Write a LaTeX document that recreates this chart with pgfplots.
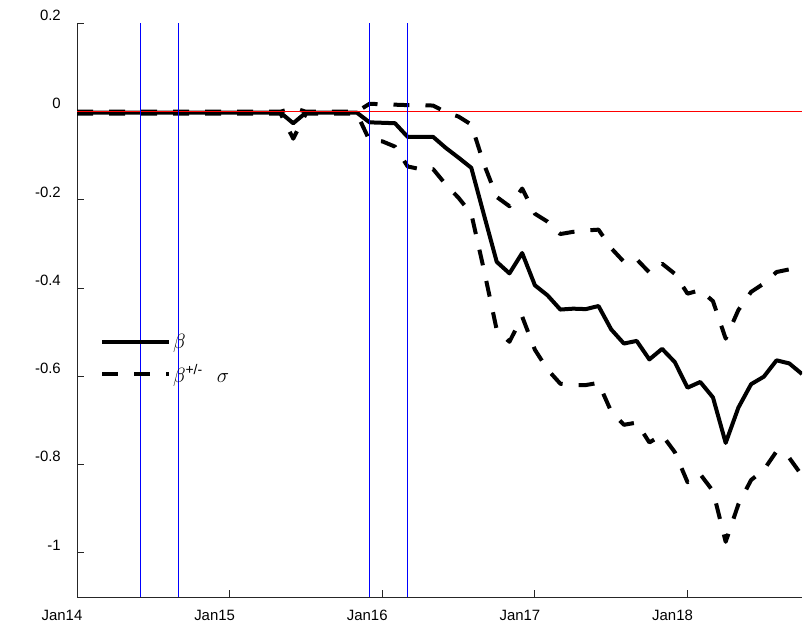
\documentclass[border=0pt]{standalone}
\usepackage{pgfplots}
\usepackage{pgfplotstable}
\pgfplotsset{compat=1.18}
\usepackage{fontspec}
\setmainfont{Liberation Sans}
\definecolor{refred}{RGB}{255,0,0}
\definecolor{refblue}{RGB}{0,0,255}
\definecolor{axgray}{RGB}{38,38,38}

\pgfplotstableread{
m beta up lo
0 -0.003 -0.001 -0.005
1 -0.003 -0.001 -0.005
2 -0.003 -0.001 -0.005
3 -0.003 -0.001 -0.005
4 -0.003 -0.001 -0.005
5 -0.003 -0.001 -0.005
6 -0.003 -0.001 -0.005
7 -0.003 -0.001 -0.005
8 -0.003 -0.001 -0.005
9 -0.003 -0.001 -0.005
10 -0.003 -0.001 -0.005
11 -0.003 -0.001 -0.005
12 -0.003 -0.001 -0.005
13 -0.003 -0.001 -0.005
14 -0.003 -0.001 -0.005
15 -0.003 -0.001 -0.005
16 -0.003 -0.001 -0.005
17 -0.027 0.008 -0.062
18 -0.003 -0.001 -0.005
19 -0.003 -0.001 -0.005
20 -0.003 -0.001 -0.005
21 -0.003 -0.001 -0.005
22 -0.003 -0.001 -0.005
23 -0.025 0.017 -0.066
24 -0.026 0.016 -0.068
25 -0.027 0.015 -0.080
26 -0.058 0.014 -0.125
27 -0.058 0.014 -0.131
28 -0.058 0.013 -0.131
29 -0.083 -0.002 -0.166
30 -0.105 -0.012 -0.196
31 -0.128 -0.030 -0.232
32 -0.235 -0.120 -0.360
33 -0.341 -0.194 -0.495
34 -0.367 -0.215 -0.522
35 -0.321 -0.175 -0.465
36 -0.394 -0.232 -0.540
37 -0.417 -0.250 -0.585
38 -0.449 -0.278 -0.617
39 -0.447 -0.273 -0.620
40 -0.448 -0.270 -0.620
41 -0.441 -0.268 -0.615
42 -0.494 -0.310 -0.680
43 -0.526 -0.341 -0.710
44 -0.520 -0.335 -0.705
45 -0.562 -0.365 -0.750
46 -0.538 -0.345 -0.733
47 -0.568 -0.368 -0.772
48 -0.626 -0.413 -0.840
49 -0.613 -0.405 -0.822
50 -0.648 -0.430 -0.860
51 -0.751 -0.515 -0.975
52 -0.671 -0.450 -0.890
53 -0.618 -0.409 -0.835
54 -0.601 -0.390 -0.812
55 -0.564 -0.364 -0.770
56 -0.571 -0.358 -0.785
57 -0.595 -0.362 -0.825
}\datatable

\pgfplotstableread{
x y
0 0
57 0
}\zeroline

\begin{document}
\begin{tikzpicture}
\begin{axis}[
  at={(0,0)}, anchor=south west,
  scale only axis, width=725bp, height=574bp,
  xmin=0, xmax=57, ymin=-1.1, ymax=0.2,
  axis x line=bottom, axis y line=left,
  axis line style={-, draw=axgray, line width=0.8bp},
  tick style={draw=axgray, line width=0.8bp},
  tick align=inside, major tick length=7bp,
  xtick={0,12,24,36,48},
  xticklabels={Jan14,Jan15,Jan16,Jan17,Jan18},
  ytick={-1,-0.8,-0.6,-0.4,-0.2,0,0.2},
  yticklabels={-1\hspace{4.3bp},-0.8\hspace{11.6bp},-0.6\hspace{11.6bp},-0.4\hspace{11.6bp},-0.2\hspace{12bp},0,0.2\hspace{8.3bp}},
  ticklabel style={font=\fontsize{15}{18}\selectfont},
  xticklabel style={xshift=-15bp, yshift=-10bp},
  yticklabel style={xshift=-12.7bp, yshift=7.7bp},
  legend style={at={(0.0315,0.462)}, anchor=north west, draw=none, fill=none,
    text=black, font=\fontsize{22}{24}\selectfont, row sep=11bp, inner sep=0pt},
  legend cell align=left,
  legend image code/.code={\draw[#1] (0bp,0bp) -- (67bp,0bp);},
]
\addplot[color=black, line width=4bp, line join=round] table[x=m, y=beta] {\datatable};
\addlegendentry{$\beta$}
\addplot[color=black, line width=4bp, line join=round, dash pattern=on 16bp off 16bp] table[x=m, y=up] {\datatable};
\addlegendentry{$\beta^{\mbox{\fontsize{14}{14}\selectfont +/-}}\hspace{14bp}\sigma$}
\addplot[color=black, line width=4bp, line join=round, dash pattern=on 16bp off 16bp, forget plot] table[x=m, y=lo] {\datatable};
\addplot[color=refred, line width=1bp, forget plot] table[x=x, y=y] {\zeroline};
\addplot[color=refblue, line width=1bp, forget plot] coordinates {(5,-1.1) (5,0.2)};
\addplot[color=refblue, line width=1bp, forget plot] coordinates {(8,-1.1) (8,0.2)};
\addplot[color=refblue, line width=1bp, forget plot] coordinates {(23,-1.1) (23,0.2)};
\addplot[color=refblue, line width=1bp, forget plot] coordinates {(26,-1.1) (26,0.2)};
\end{axis}
\pgfresetboundingbox
\useasboundingbox (-77bp,-27bp) rectangle (732bp,597bp);
\end{tikzpicture}
\end{document}
